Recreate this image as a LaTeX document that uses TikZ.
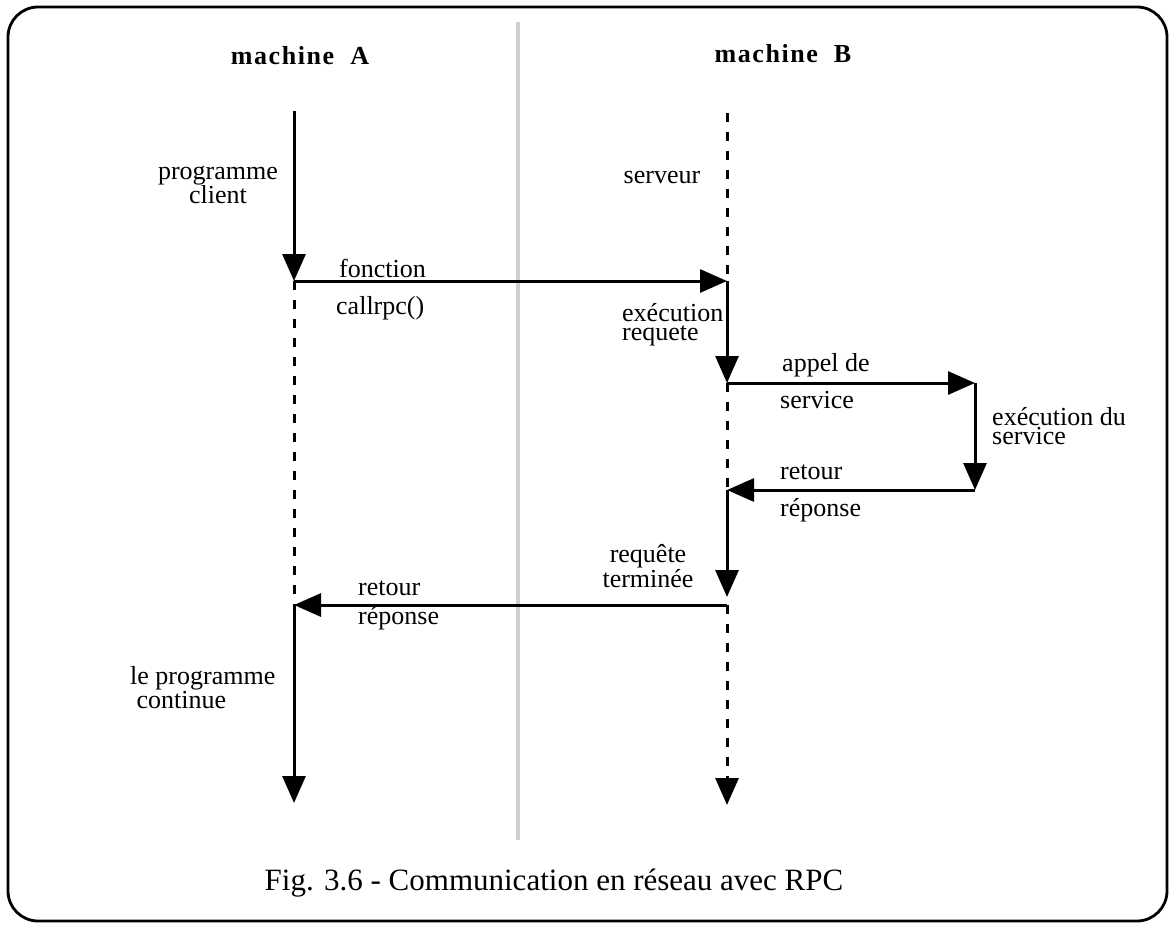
\documentclass[tikz,border=0pt]{standalone}
\usepackage{fontspec}
\setmainfont{Liberation Serif}
\usetikzlibrary{arrows.meta}
\begin{document}
\begin{tikzpicture}[x=1pt,y=-1pt,
  lbl/.style={inner sep=0pt, font=\fontsize{26}{24}\selectfont},
  head/.style={inner sep=0pt, font=\fontsize{26}{26}\selectfont\bfseries\addfontfeature{LetterSpace=6}},
  solidline/.style={line width=3pt},
  dashline/.style={line width=3pt, dash pattern=on 9pt off 10pt},
  arr/.style={-{Triangle[width=23pt,length=27pt]}},
  frame/.style={line width=2.8pt, rounded corners=30pt},
  divider/.style={line width=4.5pt, gray!38}]
\useasboundingbox (0,0) rectangle (1171,926);
% frame
\draw[frame] (8,7) rectangle (1167,921);
% divider between the machines
\coordinate (dtop) at (518,22);
\coordinate (dbot) at (518,840);
\draw[divider] (dtop) -- (dbot);
% titles
\node[head] (ma) at (300,56) {machine\ \ A};
\node[head] (mb) at (783,54) {machine\ \ B};
% lifeline events
\coordinate (a0) at (294,111);
\coordinate (a1) at (294,281);
\coordinate (a2) at (294,605);
\coordinate (a3) at (294,803);
\coordinate (b0) at (727,113);
\coordinate (b1) at (727,281);
\coordinate (b2) at (727,383);
\coordinate (b3) at (727,490);
\coordinate (b4) at (727,597);
\coordinate (b5) at (727,605);
\coordinate (b6) at (727,805);
\coordinate (s1) at (975,383);
\coordinate (s2) at (975,490);
% machine A
\draw[solidline,arr] (a0) -- (a1);
\draw[dashline] (a1) -- (a2);
\draw[solidline,arr] (a2) -- (a3);
% machine B
\draw[dashline] (b0) -- (b1);
\draw[solidline,arr] (b1) -- (b2);
\draw[dashline] (b2) -- (b3);
\draw[solidline,arr] (b3) -- (b4);
\draw[dashline,arr] (b5) -- (b6);
% service
\draw[solidline,arr] (s1) -- (s2);
% messages
\draw[solidline,arr] (a1) -- (b1);
\draw[solidline,arr] (b2) -- (s1);
\draw[solidline,arr] (s2) -- (b3);
\draw[solidline,arr] (b5) -- (a2);
% labels
\node[lbl,align=center] (pc) at (218,185) {programme\\client};
\node[lbl,anchor=west] (fo) at (339,268) {fonction};
\node[lbl,anchor=west] (cr) at (336,308) {callrpc()};
\node[lbl] (se) at (662,178) {serveur};
\node[lbl,align=left,anchor=west,font=\fontsize{26}{19}\selectfont] (er) at (622,325) {exécution\\requete};
\node[lbl,anchor=west] (ap) at (782,365) {appel de};
\node[lbl,anchor=west] (sv) at (780,400) {service};
\node[lbl,align=left,anchor=west,font=\fontsize{26}{17}\selectfont] (es) at (992,426) {exécution du\\service};
\node[lbl,anchor=west] (rt1) at (780,472) {retour};
\node[lbl,anchor=west] (rp1) at (780,510) {réponse};
\node[lbl,align=center,font=\fontsize{26}{18}\selectfont] (rq) at (648,566) {requête\\terminée};
\node[lbl,anchor=west] (rt2) at (358,588) {retour};
\node[lbl,anchor=west] (rp2) at (358,618) {réponse};
\node[lbl,align=left,anchor=west] (lc) at (130,688) {le programme\\\ continue};
\node[inner sep=0pt,font=\fontsize{31}{31}\selectfont] (cap) at (554,883) {Fig. 3.6 - Communication en réseau avec RPC};
\end{tikzpicture}
\end{document}
